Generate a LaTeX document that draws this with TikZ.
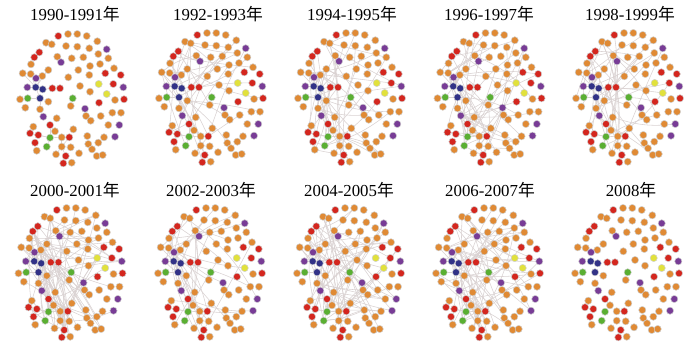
\documentclass[tikz,border=0pt]{standalone}
\usepackage{fontspec}
\setmainfont{Liberation Serif}
\newfontfamily\cjk{Noto Sans CJK SC}
\pgfdeclarelayer{back}
\pgfdeclarelayer{edges}
\pgfsetlayers{back,edges,main}
\definecolor{cO}{RGB}{224,138,52}
\definecolor{cR}{RGB}{212,38,30}
\definecolor{cP}{RGB}{120,60,150}
\definecolor{cB}{RGB}{50,50,135}
\definecolor{cG}{RGB}{90,175,50}
\definecolor{cY}{RGB}{225,225,60}
\definecolor{cE}{RGB}{218,210,210}
\tikzset{
  dot/.style={circle,inner sep=0pt,minimum size=7.2pt,draw=black!18,line width=0.5pt},
  edge/.style={draw=cE,line width=0.55pt},
  ttl/.style={anchor=base,inner sep=0pt,font=\fontsize{16.8}{18}\selectfont}
}
\def\nodelist{1/58.3/36/cR,2/68/34/cO,3/77.3/34/cO,4/86.7/36/cO,5/97.3/41.3/cO,6/46/42.7/cO,7/51.7/44.3/cO,8/66/46/cO,9/77.3/46.7/cO,10/89.3/48.3/cO,11/106.7/49.3/cP,12/39.3/52.3/cR,13/34.3/57.3/cR,14/57.3/56.7/cO,15/71.7/58.3/cO,16/83.3/57.3/cO,17/98.3/54/cO,18/108.3/58.3/cO,19/61/62.3/cP,20/31/64.3/cO,21/48.3/70/cO,22/78.3/70/cO,23/90/66/cO,24/100/64/cO,25/114/68.3/cO,26/22.7/73.3/cO,27/30.7/74/cO,28/42.3/76/cO,29/68.3/77.3/cO,30/89.3/75/cO,31/105.3/73.3/cR,32/120.7/75/cR,33/36/78.3/cP,34/27.3/87.3/cP,35/35.7/87.3/cB,36/42.7/89.3/cB,37/52.3/88.3/cR,38/60/88.3/cR,39/80/86/cO,40/98.7/84/cY,41/113.3/84/cR,42/123.3/87.3/cP,43/20/99.3/cO,44/27.7/98.3/cG,45/40/98.3/cB,46/48.3/101.7/cO,47/72.7/98.3/cG,48/90/91.7/cO,49/106.7/94/cY,50/115/100/cO,51/124/99.3/cR,52/25.3/107.7/cO,53/40/109.3/cO,54/70.7/106/cO,55/99/102.7/cR,56/85/108.7/cP,57/100.7/116/cO,58/112.3/112.7/cO,59/121/112.7/cO,60/86/116/cO,61/90.7/120.7/cO,62/43.3/116.7/cP,63/56.7/118.3/cO,64/50/125/cR,65/33.3/126.7/cO,66/73.3/129.3/cO,67/108.3/125/cO,68/119.3/125/cP,69/30/133.3/cR,70/38.3/135/cR,71/50/137.7/cG,72/69.3/137.3/cR,73/61.7/137.3/cO,74/87.3/136/cO,75/104/137.3/cO,76/115/136.7/cP,77/55/131.3/cO,78/35/142.7/cR,79/46.7/146.7/cG,80/61.7/146.7/cO,81/70.7/147.3/cO,82/88.3/144/cO,83/98.3/142.7/cO,84/36.7/150.7/cO,85/56/154.3/cO,86/65.7/156/cR,87/79/153.3/cO,88/92/149.3/cO,89/96.7/156/cO,90/102.7/155/cO,91/63.3/163.3/cR,92/71.7/162.7/cO}
\def\basestar{35/33,35/34,35/36,35/45,35/27,35/28,35/21,35/26,36/37,45/44,45/53,45/46,71/70,71/64,71/79,71/73,71/69,80/73,80/81,80/86,80/85,80/72,86/91,19/14}
\newcommand\panel[6]{%
\begin{scope}[shift={(#2,#3)},name prefix=#1-]
\foreach \i/\x/\y/\c in \nodelist {\node[dot,fill=\c] (n\i) at (\x,\y) {};}
\begin{pgfonlayer}{edges}
\draw[edge] (n6) -- (n7);
\ifnum#6=1 \foreach \a/\b in \basestar {\draw[edge] (n\a) -- (n\b);}\fi
\ifnum#5>0
\pgfmathsetseed{#4}
\foreach \k in {1,...,#5}{
  \pgfmathtruncatemacro\ha{random(0,26)}
  \pgfmathtruncatemacro\ea{{6,7,12,13,14,20,21,27,28,33,35,36,37,38,45,46,53,62,63,64,71,72,73,77,79,80,86}[\ha]}
  \pgfmathtruncatemacro\eb{mod(\ea+random(1,91)-1,92)+1}
  \pgfmathtruncatemacro\bb{random(-14,14)}
  \draw[edge] (n\ea) to[bend left=\bb] (n\eb);
}
\fi
\end{pgfonlayer}
\end{scope}}
\begin{document}
\begin{tikzpicture}[x=1pt,y=-1pt]
\begin{pgfonlayer}{back}
\fill[white] (0,0) rectangle (700,351);
\end{pgfonlayer}
\useasboundingbox (0,0) rectangle (700,351);
\panel{A}{0}{0}{11}{0}{1}
\panel{B}{139}{-1}{22}{45}{1}
\panel{C}{278}{-1}{33}{55}{1}
\panel{D}{417.5}{-1}{44}{60}{1}
\panel{E}{556}{-1}{55}{50}{1}
\panel{F}{-1.5}{174}{66}{85}{1}
\panel{G}{138}{174}{77}{45}{1}
\panel{H}{277}{174}{88}{75}{1}
\panel{I}{416}{174}{99}{75}{1}
\panel{J}{555}{174}{1}{0}{0}
\node[ttl] (t1) at (75,20.7) {1990-1991{\cjk 年}};
\node[ttl] (t2) at (218,20.7) {1992-1993{\cjk 年}};
\node[ttl] (t3) at (352,20.7) {1994-1995{\cjk 年}};
\node[ttl] (t4) at (489,20.7) {1996-1997{\cjk 年}};
\node[ttl] (t5) at (630,20.7) {1998-1999{\cjk 年}};
\node[ttl] (t6) at (75,196) {2000-2001{\cjk 年}};
\node[ttl] (t7) at (211,196) {2002-2003{\cjk 年}};
\node[ttl] (t8) at (349,196) {2004-2005{\cjk 年}};
\node[ttl] (t9) at (490,196) {2006-2007{\cjk 年}};
\node[ttl] (t10) at (631,196) {2008{\cjk 年}};
\end{tikzpicture}
\end{document}
